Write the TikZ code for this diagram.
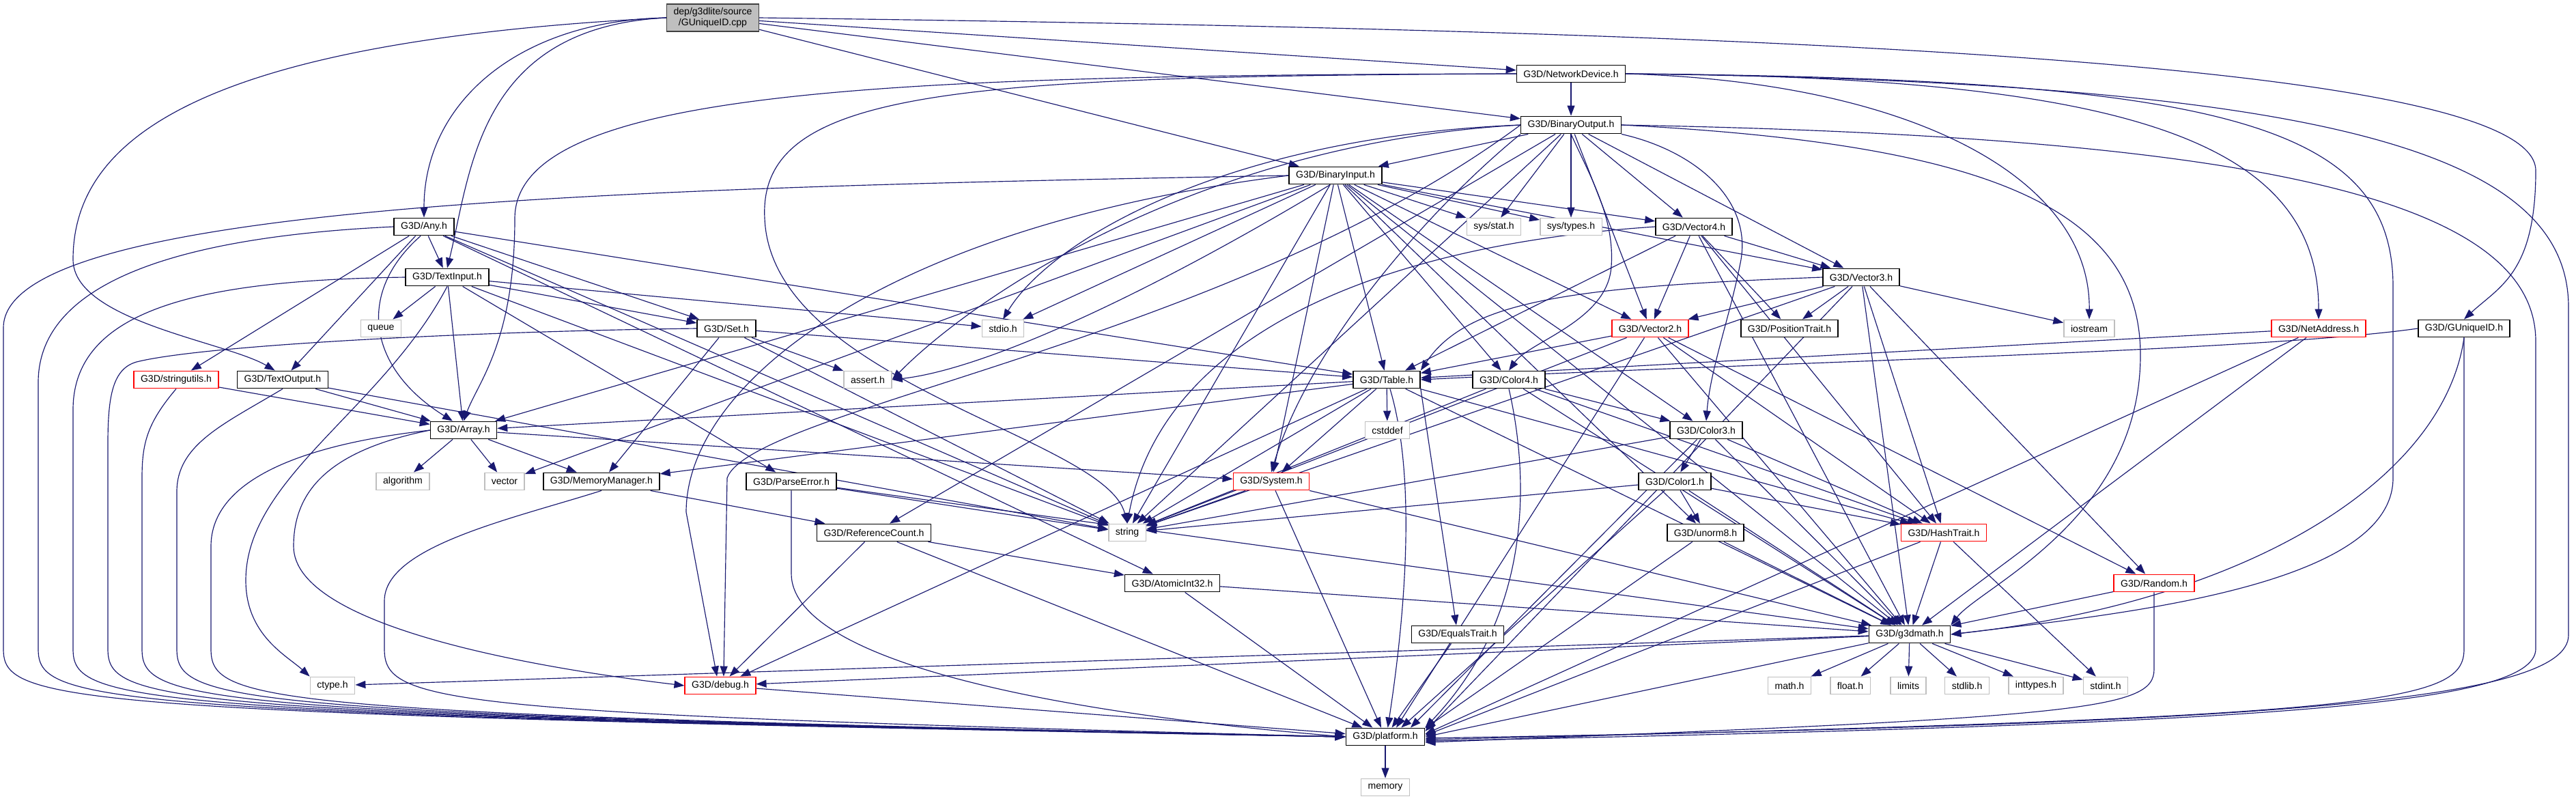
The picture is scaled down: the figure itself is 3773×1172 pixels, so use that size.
\documentclass[tikz,border=0pt]{standalone}
\usepackage{fontspec}
\setmainfont{Liberation Sans}
\usetikzlibrary{arrows.meta, backgrounds}

\definecolor{edgeblue}{RGB}{25,25,112}
\definecolor{sysgray}{RGB}{191,191,191}

\tikzset{
  hdr/.style={draw=black, line width=0.4pt, fill=white,
              font=\fontsize{4}{4.6}\selectfont,
              inner xsep=0.1cm, inner ysep=0pt, minimum height=0.255cm},
  syshdr/.style={hdr, draw=sysgray},
  cuthdr/.style={hdr, draw=red},
  roothdr/.style={hdr, fill=sysgray, draw=black!75, align=center, minimum height=0.4cm},
  dep/.style={draw=edgeblue, line width=0.33pt, -{Triangle[length=0.15cm, width=0.11cm]}}
}

\begin{document}
\begin{tikzpicture}[x=0.01cm, y=-0.01cm]
\useasboundingbox (0,0) rectangle (3773,1172);

% headers, one row per rank
\node[roothdr] (root) at (1044,26) {dep/g3dlite/source\\/GUniqueID.cpp};
\node[hdr] (netdev) at (2301,108) {G3D/NetworkDevice.h};
\node[hdr] (binout) at (2301,183) {G3D/BinaryOutput.h};
\node[hdr] (binin) at (1956,257) {G3D/BinaryInput.h};
\node[hdr] (any) at (621,332) {G3D/Any.h};
\node[syshdr] (sysstat) at (2188,332) {sys/stat.h};
\node[syshdr] (systypes) at (2301,332) {sys/types.h};
\node[hdr] (vecfour) at (2481,332) {G3D/Vector4.h};
\node[hdr] (textin) at (655,406) {G3D/TextInput.h};
\node[hdr] (vecthree) at (2726,406) {G3D/Vector3.h};
\node[syshdr] (queue) at (558,481) {queue};
\node[hdr] (set) at (1064,481) {G3D/Set.h};
\node[syshdr] (stdio) at (1469,481) {stdio.h};
\node[cuthdr] (vectwo) at (2417,481) {G3D/Vector2.h};
\node[hdr] (postrait) at (2621,481) {G3D/PositionTrait.h};
\node[syshdr] (iostream) at (3060,481) {iostream};
\node[cuthdr] (netaddr) at (3396,481) {G3D/NetAddress.h};
\node[hdr] (guid) at (3609,481) {G3D/GUniqueID.h};
\node[cuthdr] (strutil) at (258,556) {G3D/stringutils.h};
\node[hdr] (textout) at (414,556) {G3D/TextOutput.h};
\node[syshdr] (assert) at (1271,556) {assert.h};
\node[hdr] (table) at (2031,556) {G3D/Table.h};
\node[hdr] (colfour) at (2210,556) {G3D/Color4.h};
\node[hdr] (array) at (679,630) {G3D/Array.h};
\node[syshdr] (cstddef) at (2032,630) {cstddef};
\node[hdr] (colthree) at (2499,630) {G3D/Color3.h};
\node[syshdr] (algorithm) at (590,705) {algorithm};
\node[syshdr] (vector) at (739,705) {vector};
\node[hdr] (memmgr) at (881,705) {G3D/MemoryManager.h};
\node[hdr] (parseerr) at (1159,705) {G3D/ParseError.h};
\node[cuthdr] (system) at (1862,705) {G3D/System.h};
\node[hdr] (colone) at (2453,705) {G3D/Color1.h};
\node[syshdr] (string) at (1651,780) {string};
\node[hdr] (refcount) at (1280,780) {G3D/ReferenceCount.h};
\node[hdr] (unorm) at (2498,780) {G3D/unorm8.h};
\node[cuthdr] (hashtrait) at (2847,780) {G3D/HashTrait.h};
\node[hdr] (atomic) at (1717,854) {G3D/AtomicInt32.h};
\node[cuthdr] (random) at (3155,854) {G3D/Random.h};
\node[hdr] (equals) at (2135,929) {G3D/EqualsTrait.h};
\node[hdr] (gmath) at (2797,929) {G3D/g3dmath.h};
\node[syshdr] (ctype) at (487,1004) {ctype.h};
\node[cuthdr] (debug) at (1055,1004) {G3D/debug.h};
\node[syshdr] (mathh) at (2621,1004) {math.h};
\node[syshdr] (floath) at (2710,1004) {float.h};
\node[syshdr] (limits) at (2795,1004) {limits};
\node[syshdr] (stdlib) at (2881,1004) {stdlib.h};
\node[syshdr] (inttypes) at (2982,1004) {inttypes.h};
\node[syshdr] (stdint) at (3084,1004) {stdint.h};
\node[hdr] (platform) at (2029,1079) {G3D/platform.h};
\node[syshdr] (memory) at (2029,1153) {memory};

\begin{scope}[on background layer]
% plain includes
\foreach \a/\b in {root/netdev, root/binout, root/binin, netdev/binout,
    binout/binin, binout/sysstat, binout/systypes, binout/vecfour, binout/vecthree,
    binout/vectwo, binout/refcount, binout/string,
    binin/sysstat, binin/systypes, binin/vecfour, binin/vecthree, binin/vectwo,
    binin/colfour, binin/colthree, binin/unorm, binin/gmath, binin/stdio,
    binin/string, binin/vector, binin/system, binin/table, binin/array,
    any/textin, any/strutil, any/textout, any/table, any/set, any/string, any/atomic,
    textin/queue, textin/array, textin/set, textin/stdio, textin/parseerr, textin/string,
    strutil/array, textout/array, textout/string,
    set/assert, set/table, set/memmgr, set/string,
    array/algorithm, array/vector, array/memmgr, array/system,
    table/cstddef, table/system, table/string, table/hashtrait, table/gmath,
    table/array, table/memmgr, table/debug,
    colfour/colthree, colfour/string, colfour/gmath, colfour/hashtrait,
    colthree/colone, colthree/string, colthree/gmath, colthree/hashtrait,
    colone/unorm, colone/string, colone/hashtrait, colone/gmath,
    unorm/gmath,
    vecfour/vecthree, vecfour/vectwo, vecfour/table, vecfour/postrait,
    vecfour/hashtrait, vecfour/gmath,
    vecthree/vectwo, vecthree/postrait, vecthree/iostream, vecthree/string,
    vecthree/hashtrait, vecthree/gmath, vecthree/random,
    vectwo/table, vectwo/string, vectwo/hashtrait, vectwo/gmath, vectwo/random,
    netaddr/table, netaddr/gmath,
    system/string, system/platform, system/gmath,
    memmgr/refcount, parseerr/string, parseerr/gmath,
    refcount/debug, refcount/atomic, refcount/platform,
    atomic/platform, atomic/gmath, equals/platform,
    hashtrait/gmath, hashtrait/stdint, random/gmath,
    gmath/debug, gmath/ctype, gmath/mathh, gmath/floath, gmath/limits,
    gmath/stdlib, gmath/inttypes, gmath/stdint, debug/platform, platform/memory}
  \draw[dep] (\a) -- (\b);

% spread the arrows that land on platform.h
\draw[dep] (colthree) -- (platform.20);
\draw[dep] (colone) -- (platform.30);
\draw[dep] (unorm) -- (platform.12);
\draw[dep] (vecthree) -- (platform.8);
\draw[dep] (vectwo) -- (platform.40);
\draw[dep] (netaddr) -- (platform.4);
\draw[dep] (hashtrait) -- (platform.2);
\draw[dep] (gmath) -- (platform.east);

% root file
\draw[dep] (root.west) .. controls (760,30) and (621,150) .. (any.north);
\draw[dep] (root.west) .. controls (700,40) and (690,250) .. (textin.north);
\draw[dep] (root.west) .. controls (300,60) and (107,200) .. (107,380)
  .. controls (107,470) and (330,500) .. (textout.130);
\draw[dep] (root.east) .. controls (2600,45) and (3714,90) .. (3714,250)
  .. controls (3714,400) and (3660,420) .. (guid.north);

% NetworkDevice.h
\draw[dep] (netdev.west) .. controls (1300,110) and (754,130) .. (754,320)
  .. controls (754,500) and (700,560) .. (array.north);
\draw[dep] (netdev.west) .. controls (1400,112) and (1110,130) .. (1120,320)
  .. controls (1130,560) and (1620,640) .. (string.north);
\draw[dep] (netdev.east) .. controls (2800,120) and (3062,260) .. (iostream.north);
\draw[dep] (netdev.east) .. controls (3100,112) and (3396,200) .. (netaddr.north);
\draw[dep] (netdev.east) .. controls (3250,115) and (3505,180) .. (3505,420) -- (3505,700)
  .. controls (3505,860) and (3100,900) .. (gmath.east);
\draw[dep] (netdev.east) .. controls (3400,120) and (3762,220) .. (3762,450) -- (3762,930)
  .. controls (3762,1030) and (3300,1060) .. (platform.-2);

% BinaryOutput.h
\draw[dep] (binout.south) .. controls (2330,260) and (2365,320) .. (2360,390)
  .. controls (2355,470) and (2240,500) .. (colfour.north);
\draw[dep] (binout.south east) .. controls (2480,220) and (2565,290) .. (2550,380)
  .. controls (2535,460) and (2505,540) .. (colthree.north);
\draw[dep] (binout.east) .. controls (2900,210) and (3135,300) .. (3135,520)
  .. controls (3135,760) and (2900,860) .. (gmath.north east);
\draw[dep] (binout.east) .. controls (3300,200) and (3714,290) .. (3714,500) -- (3714,950)
  .. controls (3714,1035) and (3300,1060) .. (platform.-6);
\draw[dep] (binout.west) .. controls (1800,200) and (1540,350) .. (stdio.north);
\draw[dep] (binout.west) .. controls (1750,210) and (1420,440) .. (assert.east);
\draw[dep] (binout.west) .. controls (1800,500) and (1100,600) .. (1065,700) -- (debug.70);
\draw[dep] (binout.south west) .. controls (2100,300) and (1920,500) .. (system.north);

% BinaryInput.h
\draw[dep] (binin.240) .. controls (1700,420) and (1450,540) .. (assert.east);
\draw[dep] (binin.west) .. controls (1300,330) and (1005,560) .. (1005,750) -- (debug.110);
\draw[dep] (binin.west) .. controls (900,275) and (5,300) .. (5,480) -- (5,950)
  .. controls (5,1030) and (80,1045) .. (platform.west);

% left-hand bundle into platform.h
\draw[dep] (any.west) .. controls (300,345) and (56,400) .. (56,560) -- (56,950)
  .. controls (56,1030) and (130,1045) .. (platform.west);
\draw[dep] (textin.west) .. controls (300,410) and (107,450) .. (107,600) -- (107,950)
  .. controls (107,1030) and (180,1045) .. (platform.west);
\draw[dep] (set.west) .. controls (700,485) and (300,505) .. (200,530)
  .. controls (165,540) and (158,580) .. (158,650) -- (158,950)
  .. controls (158,1030) and (230,1045) .. (platform.west);
\draw[dep] (strutil.south) .. controls (215,620) and (208,650) .. (208,700) -- (208,950)
  .. controls (208,1030) and (280,1045) .. (platform.west);
\draw[dep] (textout.south) .. controls (330,620) and (259,650) .. (259,720) -- (259,950)
  .. controls (259,1030) and (330,1045) .. (platform.west);
\draw[dep] (array.west) .. controls (450,650) and (309,700) .. (309,800) -- (309,950)
  .. controls (309,1030) and (380,1045) .. (platform.west);
\draw[dep] (memmgr.south) .. controls (750,760) and (563,800) .. (563,880) -- (563,950)
  .. controls (563,1030) and (640,1045) .. (platform.west);
\draw[dep] (parseerr.south) -- (1159,840) .. controls (1159,960) and (1500,1040) .. (platform.west);

% Any.h, TextInput.h, Array.h
\draw[dep] (any.250) .. controls (520,430) and (540,540) .. (array.140);
\draw[dep] (textin.south) .. controls (560,600) and (360,700) .. (360,850)
  .. controls (360,930) and (420,960) .. (ctype.north west);
\draw[dep] (array.west) .. controls (480,660) and (430,720) .. (430,800)
  .. controls (430,920) and (800,980) .. (debug.west);

% Table.h, colours, vectors
\draw[dep] (table.south east) -- (equals);
\draw[dep] (table.290) .. controls (2075,700) and (2058,900) .. (platform.75);
\draw[dep] (colfour.south) .. controls (2240,700) and (2245,900) .. (platform.north east);
\draw[dep] (vecfour.west) .. controls (2000,360) and (1700,500) .. (string.north);
\draw[dep] (vecthree.west) .. controls (2300,420) and (2150,440) .. (table.north east);

% right-hand side
\draw[dep] (guid.west) .. controls (3300,515) and (2600,530) .. (table.east);
\draw[dep] (guid.south) .. controls (3580,700) and (3300,880) .. (gmath.east);
\draw[dep] (guid.south) -- (3609,950) .. controls (3609,1030) and (3500,1050) .. (platform.-4);
\draw[dep] (random.south) -- (3155,980) .. controls (3155,1040) and (3050,1050) .. (platform.-8);
\end{scope}
\end{tikzpicture}
\end{document}
